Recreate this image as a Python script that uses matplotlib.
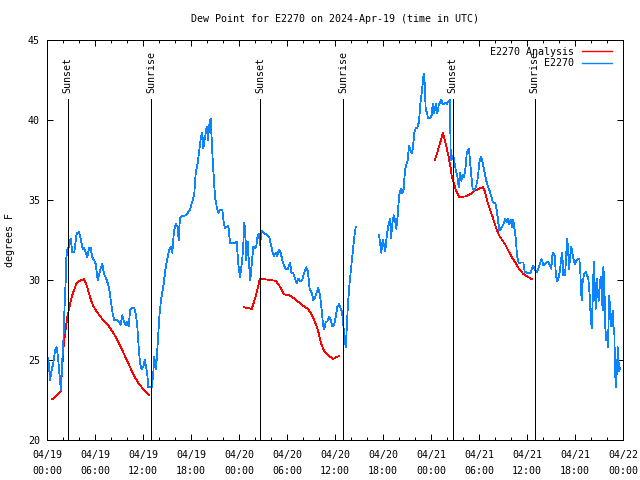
import matplotlib
matplotlib.use("Agg")
import matplotlib.pyplot as plt
from matplotlib.ticker import MultipleLocator, FixedLocator
import numpy as np

# ---- data (hours since 2024-04-19 00:00 UTC, dew point degF) ----
obs_seg1_h = [0.16, 0.38, 0.59, 0.79, 1.0, 1.21, 1.41, 1.62, 1.75, 1.91, 2.04, 2.16, 2.34, 2.38, 2.54,
              2.75, 2.96, 3.16, 3.41, 3.71, 4.0, 4.21, 4.46, 4.66, 4.84, 5.04, 5.25, 5.46, 5.66, 5.88,
              6.09, 6.34, 6.54, 6.75, 6.91, 7.12, 7.38, 7.59, 7.79, 8.0, 8.21, 8.41, 8.71, 9.0, 9.21,
              9.41, 9.62, 9.84, 10.04, 10.21, 10.38, 10.66, 10.91, 11.09, 11.29, 11.46, 11.62, 11.84,
              12.04, 12.21, 12.38, 12.54, 12.66, 13.09, 13.29, 13.41, 13.59, 13.71, 13.84, 14.04, 14.25,
              14.54, 14.79, 15.0, 15.29, 15.5, 15.66, 15.88, 16.12, 16.34, 16.46, 16.62, 16.96, 17.38,
              17.88, 18.16, 18.41, 18.59, 18.84, 19.04, 19.25, 19.41, 19.54, 19.75, 19.96, 20.12, 20.29,
              20.46, 20.59, 20.71, 20.88, 21.0, 21.21, 21.41, 21.62, 21.91, 22.12, 22.25, 22.46, 22.66,
              22.88, 23.5, 23.71, 23.91, 24.12, 24.29, 24.5, 24.66, 24.79, 24.91, 25.09, 25.25, 25.41,
              25.59, 25.79, 26.0, 26.16, 26.34, 26.5, 26.62, 26.84, 27.04, 27.25, 27.54, 27.79, 27.96,
              28.16, 28.38, 28.59, 28.79, 29.0, 29.21, 29.41, 29.62, 29.84, 30.12, 30.38, 30.54, 30.79,
              31.0, 31.21, 31.41, 31.62, 31.91, 32.12, 32.41, 32.62, 32.84, 33.09, 33.29, 33.5, 33.71,
              33.91, 34.12, 34.34, 34.5, 34.66, 34.84, 35.04, 35.25, 35.46, 35.66, 35.88, 36.09, 36.29,
              36.5, 36.66, 36.88, 37.04, 37.16, 37.34, 37.46, 37.62, 37.84, 38.04, 38.25, 38.41, 38.59]
obs_seg1_v = [25.1, 23.75, 24.4, 24.8, 25.6, 25.8, 25.0, 23.75, 23.1, 25.0, 26.1, 27.9, 30.0, 31.25, 31.9,
              32.1, 32.6, 31.75, 31.75, 32.9, 33.0, 32.6, 31.9, 32.0, 31.7, 31.4, 32.0, 32.0, 31.4, 31.25,
              31.0, 30.0, 30.4, 30.8, 31.0, 30.4, 30.1, 29.8, 29.4, 28.6, 27.9, 27.5, 27.5, 27.4, 27.2,
              27.8, 27.4, 27.2, 27.4, 27.1, 28.1, 28.25, 28.25, 27.9, 27.1, 25.8, 24.8, 24.4,
              24.6, 25.0, 24.6, 24.1, 23.3, 23.3, 24.2, 25.2, 24.4, 25.0, 26.1, 27.7, 28.75,
              29.6, 30.6, 31.25, 31.9, 32.1, 31.7, 33.1, 33.5, 33.3, 32.5, 33.9, 34.0, 34.05,
              34.4, 34.9, 35.4, 36.7, 37.3, 38.1, 38.95, 39.2, 38.25, 38.9, 39.6, 38.75, 39.7,
              40.1, 38.75, 37.5, 36.1, 35.2, 34.6, 34.2, 34.4, 34.4, 33.5, 33.25, 33.3, 33.4,
              32.3, 32.3, 32.4, 31.0, 30.2, 30.8, 31.8, 33.6, 33.0, 31.25, 32.4, 31.0, 30.0,
              31.0, 32.1, 32.0, 32.1, 32.8, 32.9, 32.2, 33.1, 33.0, 32.9, 32.8, 32.7, 32.3,
              31.8, 31.5, 31.7, 31.5, 31.9, 31.7, 31.25, 30.9, 30.7, 30.7, 31.1, 30.5, 30.4,
              30.1, 29.8, 30.1, 29.9, 30.0, 30.4, 30.8, 30.5, 29.4, 29.2, 28.75, 28.9, 29.2,
              29.5, 29.1, 28.1, 27.2, 26.9, 27.4, 27.4, 27.7, 27.5, 27.1, 27.2, 27.7, 28.3,
              28.5, 28.3, 28.0, 27.2, 26.5, 25.8, 26.9, 28.5, 29.9, 30.9, 32.0, 32.7, 33.3]

obs_seg2_h = [41.5, 41.62, 41.79, 41.96, 42.12, 42.29, 42.41, 42.54, 42.71, 42.88, 43.0, 43.16, 43.34,
              43.5, 43.66, 43.84, 44.0, 44.21, 44.41, 44.59, 44.75, 44.91, 45.09, 45.25, 45.41, 45.59,
              45.75, 45.91, 46.09, 46.29, 46.5, 46.66, 46.84, 46.96, 47.09, 47.21, 47.34, 47.5, 47.62,
              47.88, 48.09, 48.21, 48.38, 48.5, 48.66, 48.79, 48.96, 49.12, 49.29, 49.46, 49.62, 49.84,
              49.96, 50.12, 50.38, 50.44, 50.5, 50.62, 50.79, 50.96, 51.12, 51.29, 51.46, 51.62, 51.79,
              51.96, 52.12, 52.29, 52.46, 52.59, 52.75, 52.88, 53.04, 53.21, 53.41, 53.62, 53.84, 54.04,
              54.21, 54.38, 54.54, 54.71, 54.88, 55.04, 55.21, 55.38, 55.54, 55.71, 55.88, 56.04, 56.21,
              56.38, 56.54, 56.75, 56.96, 57.16, 57.29, 57.46, 57.62, 57.79, 57.96, 58.12, 58.29, 58.46,
              58.62, 58.75, 58.96, 59.25, 59.54, 59.71, 60.09, 60.41, 60.62, 60.79, 60.96, 61.21, 61.41,
              61.62, 61.84, 62.04, 62.25, 62.46, 62.66, 62.88, 63.04, 63.16, 63.29, 63.46, 63.62, 63.79,
              63.96, 64.12, 64.25, 64.41, 64.54, 64.75, 64.88, 65.0, 65.12, 65.25, 65.38, 65.54, 65.66,
              65.84, 66.0, 66.21, 66.38, 66.54, 66.66, 66.75, 66.84, 66.96, 67.16, 67.34, 67.5, 67.66,
              67.84, 67.96, 68.09, 68.21, 68.34, 68.46, 68.59, 68.71, 68.84, 68.96, 69.09, 69.21, 69.34,
              69.46, 69.54, 69.66, 69.79, 69.91, 70.04, 70.12, 70.21, 70.29, 70.38, 70.46, 70.59, 70.71,
              70.79, 70.91, 71.0, 71.09, 71.16, 71.25, 71.34, 71.41, 71.5, 71.62]
obs_seg2_v = [32.8, 32.4, 31.7, 32.5, 32.2, 31.8, 32.5, 33.0, 33.5, 33.85, 32.6, 33.5, 34.05,
              33.75, 33.2, 34.05, 35.2, 35.7, 35.4, 35.7, 36.9, 37.2, 37.5, 38.4, 38.1, 37.9,
              38.3, 39.2, 39.5, 39.5, 39.9, 41.0, 41.7, 42.3, 42.9, 42.3, 40.6, 40.5, 40.1,
              40.1, 40.3, 41.0, 40.4, 40.75, 41.0, 40.4, 40.9, 41.1, 41.25, 41.0, 41.0, 41.1,
              41.0, 41.1, 41.25, 38.3, 37.5, 37.6, 37.8, 37.3, 36.8, 36.5, 35.8, 36.7, 36.2,
              36.6, 36.4, 36.9, 37.9, 38.1, 38.2, 37.4, 36.5, 35.7, 35.6, 35.8, 36.35, 37.3,
              37.7, 37.5, 37.1, 36.7, 36.25, 36.0, 35.7, 35.5, 35.2, 34.9, 34.8, 34.8, 34.4,
              33.75, 33.1, 33.2, 33.4, 33.6, 33.85, 33.6, 33.85, 33.5, 33.75, 33.3, 33.75, 33.1,
              32.5, 31.5, 31.05, 31.1, 31.1, 30.5, 30.45, 30.45, 30.7, 30.9, 30.7, 30.5, 30.7,
              31.05, 31.3, 30.9, 31.0, 31.1, 31.15, 30.9, 30.7, 31.5, 31.7, 31.5, 30.3, 29.9,
              30.2, 30.6, 31.25, 31.7, 30.3, 30.3, 31.35, 32.6, 32.1, 30.7, 31.4, 32.1, 31.7,
              31.25, 31.0, 31.25, 31.3, 31.35, 30.6, 29.4, 28.75, 29.9, 30.4, 30.5, 30.3, 30.1,
              29.0, 27.7, 27.0, 28.75, 31.15, 29.7, 28.2, 30.1, 29.3, 28.7, 29.7, 30.2, 29.1,
              28.1, 30.8, 29.9, 27.0, 26.25, 26.5, 25.8, 27.7, 29.0, 28.2, 27.1, 27.5, 28.1,
              27.1, 26.9, 24.6, 23.3, 24.8, 24.1, 25.8, 25.3, 24.3, 24.5]

ana_seg1_h = [0.66, 1.2, 1.7, 1.9, 2.1, 2.4, 2.55, 2.8, 3.1, 3.4, 3.7, 4.1, 4.66, 5.0, 5.4, 5.75,
              6.25, 7.0, 7.75, 8.4, 9.0, 9.6, 10.25, 10.9, 11.5, 12.0, 12.75]
ana_seg1_v = [22.55, 22.8, 23.0, 24.5, 26.0, 27.2, 27.7, 28.3, 28.95, 29.4, 29.8, 29.95, 30.05, 29.6,
              28.9, 28.4, 28.0, 27.5, 27.1, 26.6, 26.05, 25.4, 24.7, 24.0, 23.5, 23.2, 22.8]
ana_seg2_h = [24.6, 25.1, 25.6, 26.1, 26.4, 26.6, 27.1, 27.9, 28.6, 29.1, 29.6, 30.25, 30.75, 31.25,
              31.75, 32.25, 32.6, 33.0, 33.4, 33.75, 34.0, 34.25, 34.6, 35.0, 35.4, 35.75, 36.2, 36.55]
ana_seg2_v = [28.3, 28.25, 28.2, 29.0, 29.6, 30.1, 30.05, 30.0, 29.95, 29.6, 29.1, 29.05, 28.9, 28.7,
              28.5, 28.3, 28.2, 27.9, 27.5, 27.05, 26.6, 26.05, 25.6, 25.4, 25.2, 25.05, 25.2, 25.25]
ana_seg3_h = [48.5, 49.1, 49.5, 49.9, 50.2, 50.5, 50.6, 50.9, 51.1, 51.5, 52.0, 52.5, 53.0, 53.5, 54.0,
              54.5, 54.7, 55.0, 55.3, 55.7, 56.1, 56.5, 56.9, 57.3, 57.7, 58.2, 58.6, 59.0, 59.5,
              60.1, 60.6]
ana_seg3_v = [37.5, 38.5, 39.2, 38.4, 37.7, 36.9, 36.45, 36.0, 35.6, 35.2, 35.2, 35.25, 35.4, 35.6, 35.7,
              35.8, 35.6, 35.0, 34.5, 33.95, 33.3, 32.8, 32.5, 32.2, 31.8, 31.35, 31.05, 30.7, 30.4,
              30.2, 30.05]

sun_times = [2.6, 13.0, 26.65, 37.0, 50.7, 60.95]
sun_labels = ["Sunset", "Sunrise", "Sunset", "Sunrise", "Sunset", "Sunrise"]

xtick_hours = [0, 6, 12, 18, 24, 30, 36, 42, 48, 54, 60, 66, 72]
xtick_labels = ["04/19\n00:00", "04/19\n06:00", "04/19\n12:00", "04/19\n18:00",
                "04/20\n00:00", "04/20\n06:00", "04/20\n12:00", "04/20\n18:00",
                "04/21\n00:00", "04/21\n06:00", "04/21\n12:00", "04/21\n18:00",
                "04/22\n00:00"]
yticks = [20, 25, 30, 35, 40, 45]

title = "Dew Point for E2270 on 2024-Apr-19 (time in UTC)"
ylabel = "degrees F"

# ---- plot ----
FONT = "DejaVu Sans Mono"
FS = 7.2
plt.rcParams['font.family'] = FONT
plt.rcParams['font.size'] = FS

BLUE = "#0a84ff"
RED = "#ff0000"
LW = 0.72
DLW = 0.55

fig = plt.figure(figsize=(6.4, 4.8), dpi=100)
ax = fig.add_axes([47/640, 1-440/480, 576/640, 400/480])

ax.plot(ana_seg1_h, ana_seg1_v, color=RED, lw=DLW, antialiased=False, label="E2270 Analysis")
ax.plot(ana_seg2_h, ana_seg2_v, color=RED, lw=DLW, antialiased=False)
ax.plot(ana_seg3_h, ana_seg3_v, color=RED, lw=DLW, antialiased=False)
ax.plot(obs_seg1_h, obs_seg1_v, color=BLUE, lw=DLW, antialiased=False, label="E2270")
ax.plot(obs_seg2_h, obs_seg2_v, color=BLUE, lw=DLW, antialiased=False)

ax.vlines(sun_times, 20, 41.3, color="black", lw=LW, antialiased=False)
for t, lab in zip(sun_times, sun_labels):
    ax.text(t, 41.69, lab, rotation=90, ha="center", va="bottom", fontsize=FS)

ax.set_xlim(0, 72)
ax.set_ylim(20, 45)
ax.xaxis.set_major_locator(FixedLocator(xtick_hours))
ax.set_xticklabels(xtick_labels, linespacing=1.7)
ax.xaxis.set_minor_locator(MultipleLocator(2))
ax.set_yticks(yticks)
ax.set_yticklabels([str(v) for v in yticks])

ax.tick_params(which="both", direction="in", top=True, right=True, width=LW)
ax.tick_params(which="major", length=4.5)
ax.tick_params(which="minor", length=2.5)
ax.tick_params(axis="x", which="major", pad=7.5)
ax.tick_params(axis="y", which="major", pad=5)
for s in ax.spines.values():
    s.set_linewidth(LW)

leg = ax.legend(loc="upper right", frameon=False, markerfirst=False, handlelength=3.0,
                borderaxespad=0.3, labelspacing=0.15, handletextpad=0.8, fontsize=FS,
                bbox_to_anchor=(1.0 - 4/576, 1.0))
for h in leg.get_lines():
    h.set_linewidth(1.0)

fig.text(335/640, 1-19/480, title, ha="center", va="center", fontsize=FS)
fig.text(10/640, 0.5, ylabel, rotation=90, ha="center", va="center", fontsize=FS)

fig.savefig("out.png", dpi=100)
